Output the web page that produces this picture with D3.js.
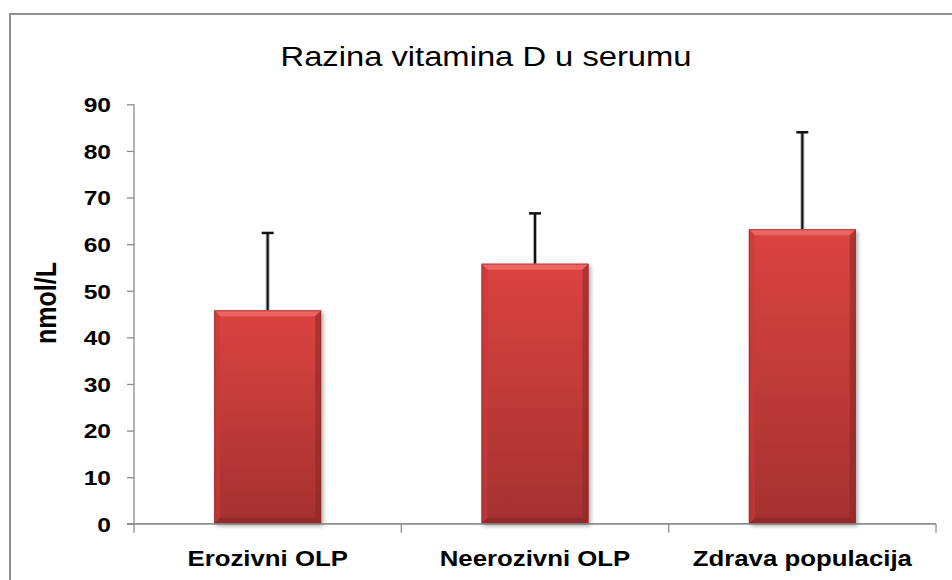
<!DOCTYPE html>
<html>
<head>
<meta charset="utf-8">
<script src="https://cdn.jsdelivr.net/npm/d3@7/dist/d3.min.js"></script>
<style>
  html, body { margin: 0; padding: 0; background: #fff; }
  svg { display: block; font-family: "Liberation Sans", Arial, sans-serif; }
</style>
</head>
<body>
<svg id="chart" width="952" height="580"></svg>
<script>
const title = "Razina vitamina D u serumu";
const yAxisTitle = "nmol/L";
const categories = ["Erozivni OLP", "Neerozivni OLP", "Zdrava populacija"];
const means = [45.8, 55.8, 63.2];
const errorTops = [62.4, 66.6, 84.0];
const yTicks = [0, 10, 20, 30, 40, 50, 60, 70, 80, 90];

const SX = 1.2; // horizontal text stretch seen in the reference
const svg = d3.select("#chart");

// gradients
const defs = svg.append("defs");
const g1 = defs.append("linearGradient").attr("id", "barGrad").attr("x1", 0).attr("y1", 0).attr("x2", 0).attr("y2", 1);
g1.append("stop").attr("offset", "0%").attr("stop-color", "#db4441");
g1.append("stop").attr("offset", "100%").attr("stop-color", "#a43130");
const f = defs.append("filter").attr("id", "shadow").attr("x", "-20%").attr("y", "-20%").attr("width", "150%").attr("height", "150%");
f.append("feGaussianBlur").attr("in", "SourceAlpha").attr("stdDeviation", 2);
f.append("feOffset").attr("dx", 2).attr("dy", 2).attr("result", "ob");
f.append("feComponentTransfer").append("feFuncA").attr("type", "linear").attr("slope", 0.35);
const fm = f.append("feMerge");
fm.append("feMergeNode");
fm.append("feMergeNode").attr("in", "SourceGraphic");

// outer frame (only top and left edges are visible)
svg.append("rect").attr("x", 10).attr("y", 14).attr("width", 1000).attr("height", 1000)
  .attr("fill", "none").attr("stroke", "#8f8f8f").attr("stroke-width", 2);

const x = d3.scaleBand().domain(categories).range([134, 936]).paddingInner(0.6).paddingOuter(0.3);
const y = d3.scaleLinear().domain([0, 90]).range([523.8, 104.3]);

// title
svg.append("text").attr("transform", `translate(486,66) scale(1.19,1)`)
  .attr("text-anchor", "middle").attr("font-size", 27.5).attr("fill", "#000").text(title);

// y axis
const yAxis = svg.append("g").attr("transform", "translate(134,0)")
  .call(d3.axisLeft(y).tickValues(yTicks).tickSize(7).tickPadding(0).tickSizeOuter(0));
yAxis.select(".domain").attr("d", `M0,${y(90)}V${y(0) + 9}`);
yAxis.selectAll("line, .domain").attr("stroke", "#8c8c8c").attr("stroke-width", 1.3);
yAxis.selectAll("text").attr("font-size", 20.5).attr("font-weight", "bold").attr("fill", "#000")
  .attr("font-family", "Liberation Sans, Arial, sans-serif")
  .attr("x", null).attr("dy", "0.36em")
  .attr("transform", `translate(-23,0) scale(${SX},1)`);

// x axis
const xAxisG = svg.append("g").attr("transform", `translate(0,${y(0)})`);
xAxisG.append("line").attr("x1", 127).attr("x2", 936).attr("y1", 0).attr("y2", 0)
  .attr("stroke", "#8c8c8c").attr("stroke-width", 1.3);
const bounds = [0, 1, 2, 3].map(i => 134 + i * x.step());
xAxisG.selectAll("line.sep").data(bounds.slice(1)).join("line").attr("class", "sep")
  .attr("x1", d => d).attr("x2", d => d).attr("y1", 0).attr("y2", 9)
  .attr("stroke", "#8c8c8c").attr("stroke-width", 1.3);
xAxisG.selectAll("text").data(categories).join("text")
  .attr("transform", d => `translate(${x(d) + x.bandwidth() / 2},42) scale(${SX},1)`)
  .attr("text-anchor", "middle").attr("font-size", 21.5).attr("font-weight", "bold").attr("fill", "#000")
  .text(d => d);

// y axis title
svg.append("text").attr("transform", `translate(56,303) scale(${SX},1) rotate(-90)`)
  .attr("text-anchor", "middle").attr("font-size", 25).attr("font-weight", "bold").attr("fill", "#000")
  .text(yAxisTitle);

// error bars (behind bars)
const eb = svg.append("g");
categories.forEach((c, i) => {
  const cx = x(c) + x.bandwidth() / 2;
  eb.append("line").attr("x1", cx).attr("x2", cx).attr("y1", y(means[i])).attr("y2", y(errorTops[i]))
    .attr("stroke", "#b0b0b0").attr("stroke-width", 4);
  eb.append("line").attr("x1", cx).attr("x2", cx).attr("y1", y(means[i])).attr("y2", y(errorTops[i]))
    .attr("stroke", "#111").attr("stroke-width", 2);
  eb.append("line").attr("x1", cx - 6).attr("x2", cx + 6).attr("y1", y(errorTops[i])).attr("y2", y(errorTops[i]))
    .attr("stroke", "#111").attr("stroke-width", 2.5);
});

// bars with bevel
const bars = svg.append("g");
categories.forEach((c, i) => {
  const x0 = x(c), w = x.bandwidth();
  const y0 = y(means[i]), y1 = y(0), h = y1 - y0;
  const b = 6;
  const g = bars.append("g");
  g.append("rect").attr("x", x0).attr("y", y0).attr("width", w).attr("height", h)
    .attr("fill", "url(#barGrad)").attr("filter", "url(#shadow)");
  // top bevel
  g.append("path").attr("d", `M${x0},${y0}L${x0 + w},${y0}L${x0 + w - b},${y0 + b}L${x0 + b},${y0 + b}Z`)
    .attr("fill", "#f06b67").attr("opacity", 0.85);
  // left bevel
  g.append("path").attr("d", `M${x0},${y0}L${x0 + b},${y0 + b}L${x0 + b},${y1 - b}L${x0},${y1}Z`)
    .attr("fill", "#c63b38").attr("opacity", 0.6);
  // right bevel
  g.append("path").attr("d", `M${x0 + w},${y0}L${x0 + w - b},${y0 + b}L${x0 + w - b},${y1 - b}L${x0 + w},${y1}Z`)
    .attr("fill", "#8e2725").attr("opacity", 0.55);
  // bottom bevel
  g.append("path").attr("d", `M${x0},${y1}L${x0 + b},${y1 - b}L${x0 + w - b},${y1 - b}L${x0 + w},${y1}Z`)
    .attr("fill", "#7e2220").attr("opacity", 0.5);
  g.append("rect").attr("x", x0 + 0.5).attr("y", y0 + 0.5).attr("width", w - 1).attr("height", h - 1)
    .attr("fill", "none").attr("stroke", "#8a2826").attr("stroke-width", 1).attr("opacity", 0.6);
});
// redraw x axis line above bars
svg.append("line").attr("x1", 127).attr("x2", 936).attr("y1", y(0)).attr("y2", y(0))
  .attr("stroke", "#8c8c8c").attr("stroke-width", 1.3);
</script>
</body>
</html>
